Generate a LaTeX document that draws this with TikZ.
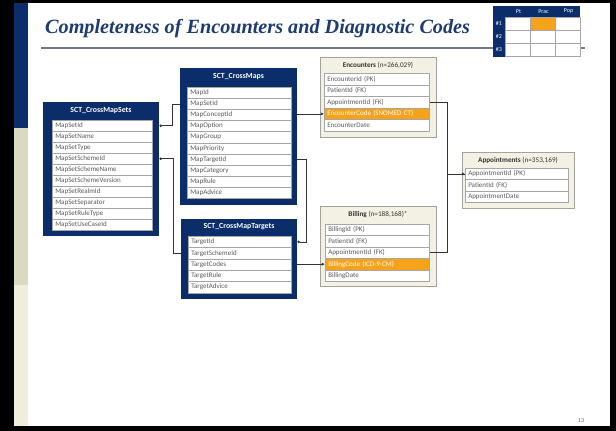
\documentclass[tikz,border=0pt]{standalone}
\usepackage{fontspec}
\setmainfont{Carlito}
\newfontfamily\titlefont{Liberation Serif}
\usetikzlibrary{arrows.meta,calc}

\definecolor{navy}{HTML}{0B2D69}
\definecolor{titleblue}{HTML}{1F3B73}
\definecolor{keyorange}{HTML}{F7A21B}
\definecolor{panelbeige}{HTML}{F3F1E4}
\definecolor{panelline}{HTML}{A3A39B}
\definecolor{rowline}{HTML}{A6A6A6}
\definecolor{rowtext}{HTML}{5A5A5A}
\definecolor{stripdark}{HTML}{DADAC0}
\definecolor{striplight}{HTML}{EFEEDD}
\definecolor{rulegray}{HTML}{6E7A8C}

\tikzset{
  navybox/.style={fill=navy, draw=none, anchor=north west, inner sep=0pt},
  beigebox/.style={fill=panelbeige, draw=panelline, line width=1pt, anchor=north west, inner sep=0pt},
  navytitle/.style={text=white, font=\bfseries\fontsize{7.8}{9}\selectfont, inner sep=0pt},
  beigetitle/.style={text=black!80, font=\fontsize{7.2}{8}\selectfont, inner sep=0pt},
  fieldrow/.style={draw=rowline, line width=0.5pt, fill=white, anchor=north west,
    inner xsep=3pt, inner ysep=0pt, text=rowtext, align=left,
    font=\fontsize{7}{8}\selectfont},
  keyrow/.style={fieldrow, fill=keyorange, text=white},
  conn/.style={draw=black!80, line width=0.6pt},
  arrowend/.style={conn, -{Latex[length=3.2pt,width=3pt]}},
  dotstart/.style={conn, {Circle[length=2.6pt]}-},
  dotend/.style={conn, -{Circle[length=2.6pt]}},
  gridcell/.style={draw=rowline, line width=0.5pt, fill=white, anchor=north west,
    minimum width=25pt, minimum height=13pt, inner sep=0pt},
  gridhead/.style={text=white, font=\fontsize{6}{7}\selectfont, inner sep=0pt}
}

% rows of a table: prefix, x, top y, width, row height, highlighted row, labels
\newcommand\tablerows[7]{%
  \foreach \t [count=\i] in {#7} {%
    \ifnum\i=#6\relax\tikzset{currow/.style={keyrow}}\else\tikzset{currow/.style={fieldrow}}\fi
    \node[currow, text width={#4pt-6pt}, minimum height=#5pt] (#1\i) at (#2,{#3+(\i-1)*#5}) {\t};
  }%
}

\begin{document}
\begin{tikzpicture}[x=1pt,y=-1pt]
  \useasboundingbox (0,0) rectangle (616,431);
  \fill[white] (0,0) rectangle (616,431);

  % slide frame and side strip
  \fill[black] (0,0) rectangle (14,431);
  \fill[black] (0,0) rectangle (616,2.5);
  \fill[black] (0,426) rectangle (616,431);
  \fill[black] (610,0) rectangle (616,431);
  \fill[navy] (14,2.5) rectangle (28,128);
  \fill[stripdark] (14,128) rectangle (28,285);
  \fill[striplight] (14,285) rectangle (28,426);

  % title and rule
  \node[anchor=base west, inner sep=0pt, text=titleblue,
        font=\titlefont\bfseries\itshape\fontsize{20.2}{24}\selectfont] (title) at (45,34)
        {Completeness of Encounters and Diagnostic Codes};
  \draw[rulegray, line width=1.4pt] (41,48) -- (585,48);

  % status grid
  \node[navybox, minimum width=87pt, minimum height=51pt] (grid) at (493,6) {};
  \foreach \c [count=\j] in {Pt,Prac,Pop} {
    \node[gridhead] (gh\j) at ({506+(\j-0.5)*25},11.5) {\c};
    \foreach \r in {1,2,3} {
      \node[gridcell] (g\j\r) at ({505+(\j-1)*25},{17+(\r-1)*13}) {};
    }
  }
  \foreach \r in {1,2,3} {
    \node[gridhead] (gr\r) at (499,{23.5+(\r-1)*13}) {\#\r};
  }
  \node[gridcell, fill=keyorange] (g21hl) at (530,17) {};

  % SCT_CrossMapSets
  \node[navybox, minimum width=116pt, minimum height=134pt] (msbox) at (43,102) {};
  \node[navytitle] (mstitle) at (101,111) {SCT\_CrossMapSets};
  \tablerows{ms}{52}{120}{100}{11}{0}{MapSetId,MapSetName,MapSetType,MapSetSchemeId,MapSetSchemeName,MapSetSchemeVersion,MapSetRealmId,MapSetSeparator,MapSetRuleType,MapSetUseCaseId}

  % SCT_CrossMaps
  \node[navybox, minimum width=117pt, minimum height=137pt] (cmbox) at (180,68) {};
  \node[navytitle] (cmtitle) at (238.5,77) {SCT\_CrossMaps};
  \tablerows{cm}{187}{87}{104}{11.1}{0}{MapId,MapSetId,MapConceptId,MapOption,MapGroup,MapPriority,MapTargetId,MapCategory,MapRule,MapAdvice}

  % SCT_CrossMapTargets
  \node[navybox, minimum width=116pt, minimum height=80pt] (ctbox) at (181,219) {};
  \node[navytitle] (cttitle) at (239,227) {SCT\_CrossMapTargets};
  \tablerows{ct}{188}{236}{103}{11.3}{0}{TargetId,TargetSchemeId,TargetCodes,TargetRule,TargetAdvice}

  % Encounters
  \node[beigebox, minimum width=116pt, minimum height=80pt] (encbox) at (320,57) {};
  \node[beigetitle] (enctitle) at (378,65) {\textbf{Encounters} (n=266,029)};
  \tablerows{enc}{324}{73}{105}{11.6}{4}{EncounterId (PK),PatientId (FK),AppointmentId (FK),EncounterCode (SNOMED CT),EncounterDate}

  % Billing
  \node[beigebox, minimum width=116pt, minimum height=80pt] (bilbox) at (320,206) {};
  \node[beigetitle] (biltitle) at (378,214.5) {\textbf{Billing} (n=188,168)*};
  \tablerows{bil}{325}{224}{104}{11.4}{4}{BillingId (PK),PatientId (FK),AppointmentId (FK),BillingCode (ICD-9-CM),BillingDate}

  % Appointments
  \node[beigebox, minimum width=112pt, minimum height=56pt] (appbox) at (462,152) {};
  \node[beigetitle] (apptitle) at (518,160) {\textbf{Appointments} (n=353,169)};
  \tablerows{app}{465}{168}{103}{11.3}{0}{AppointmentId (PK),PatientId (FK),AppointmentDate}

  % relationships
  \draw[dotstart] (ms1.east -| msbox.east) -- ++(13,0) |- (cm2.west -| cmbox.west);
  \draw[dotstart] (ms4.east -| msbox.east) -- ++(14,0) |- (ct2.west -| ctbox.west);
  \draw[arrowend] (cmbox.east |- enc4.west) -- (enc4.west);
  \draw[dotend] (cm7.east -| cmbox.east) -- ++(9,0) |- (ct1.east -| ctbox.east);
  \draw[arrowend] (ctbox.east |- bil4.west) -- (bil4.west);
  \draw[arrowend] (enc3.east) -- ++(18,0) |- (app1.west);
  \draw[conn] (bil3.east) -- ++(18,0) |- (app1.west);

  % page number
  \node[text=black!60, font=\fontsize{6}{7}\selectfont, inner sep=0pt] (pageno) at (581,421) {13};
\end{tikzpicture}
\end{document}
